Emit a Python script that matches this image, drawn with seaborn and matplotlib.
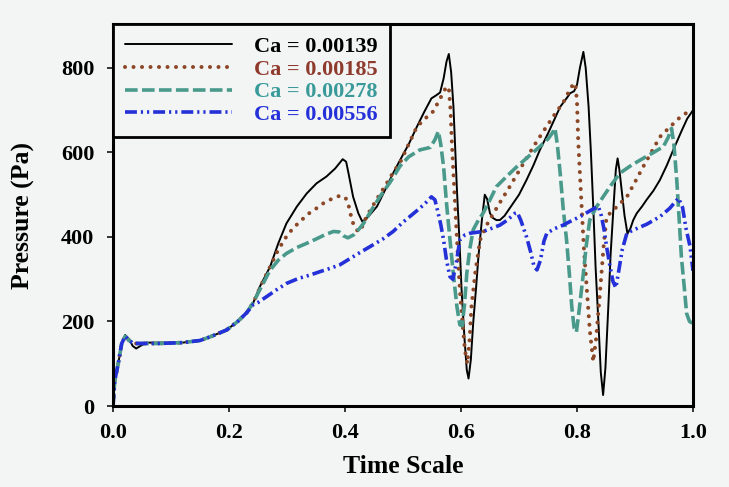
import numpy as np
import pandas as pd
import matplotlib
matplotlib.use("Agg")
import matplotlib.pyplot as plt
import seaborn as sns

# ---- pressure traces (time scale, pressure in Pa) ----
t_139 = [0, 0.003, 0.009, 0.015, 0.021, 0.028, 0.034, 0.040, 0.047, 0.058, 0.08, 0.12,
         0.15, 0.17, 0.196, 0.215, 0.23, 0.242, 0.253, 0.271, 0.285, 0.299, 0.317, 0.334,
         0.351, 0.368, 0.383, 0.396, 0.402, 0.406, 0.414, 0.423, 0.430, 0.440, 0.455,
         0.469, 0.483, 0.495, 0.510, 0.524, 0.537, 0.549, 0.557, 0.564, 0.570, 0.575,
         0.579, 0.583, 0.587, 0.590, 0.593, 0.597, 0.601, 0.606, 0.610, 0.613, 0.617,
         0.621, 0.626, 0.630, 0.636, 0.641, 0.645, 0.650, 0.655, 0.661, 0.667, 0.675,
         0.690, 0.700, 0.713, 0.725, 0.736, 0.750, 0.760, 0.771, 0.783, 0.788, 0.795,
         0.800, 0.805, 0.811, 0.815, 0.820, 0.824, 0.828, 0.832, 0.837, 0.841, 0.845,
         0.849, 0.854, 0.858, 0.863, 0.867, 0.870, 0.873, 0.877, 0.882, 0.887, 0.892,
         0.897, 0.903, 0.912, 0.920, 0.932, 0.943, 0.955, 0.966, 0.980, 0.990, 1.0]
p_139 = [0, 60, 100, 148, 168, 158, 142, 136, 142, 150, 150, 150,
         155, 165, 180, 200, 220, 245, 282, 330, 385, 432, 472, 503,
         527, 543, 562, 584, 578, 551, 495, 456, 436, 448, 472,
         511, 551, 582, 620, 661, 697, 728, 735, 742, 775, 815,
         833, 790, 708, 610, 511, 400, 275, 160, 85, 65, 110,
         196, 280, 353, 440, 500, 490, 456, 445, 440, 440, 450,
         480, 500, 535, 570, 606, 645, 675, 708, 730, 740, 745,
         760, 800, 838, 800, 708, 600, 472, 330, 196, 80, 26,
         90, 235, 360, 472, 560, 586, 560, 511, 450, 408, 420,
         440, 456, 472, 488, 510, 535, 570, 606, 650, 680, 700]

t_185 = [0, 0.003, 0.009, 0.015, 0.021, 0.028, 0.035, 0.05, 0.08, 0.12, 0.15, 0.17,
         0.196, 0.215, 0.23, 0.242, 0.255, 0.271, 0.285, 0.299, 0.310, 0.322, 0.337,
         0.351, 0.365, 0.380, 0.390, 0.397, 0.402, 0.406, 0.409, 0.412, 0.416, 0.420,
         0.424, 0.430, 0.437, 0.455, 0.472, 0.484, 0.495, 0.510, 0.524, 0.538, 0.552,
         0.565, 0.575, 0.579, 0.582, 0.584, 0.587, 0.590, 0.594, 0.598, 0.603, 0.607,
         0.611, 0.615, 0.618, 0.625, 0.633, 0.645, 0.656, 0.670, 0.684, 0.705, 0.725,
         0.742, 0.759, 0.777, 0.790, 0.797, 0.800, 0.802, 0.805, 0.808, 0.812, 0.817,
         0.822, 0.828, 0.833, 0.840, 0.846, 0.851, 0.863, 0.875, 0.886, 0.900, 0.914,
         0.928, 0.943, 0.960, 0.975, 0.990, 1.0]
p_185 = [0, 60, 100, 148, 165, 155, 148, 148, 148, 150, 155, 165,
         180, 200, 220, 245, 285, 330, 370, 401, 420, 436, 455,
         468, 482, 492, 497, 497, 490, 476, 458, 440, 425, 417,
         412, 425, 448, 490, 527, 555, 576, 620, 661, 680, 697,
         730, 756, 752, 700, 630, 550, 472, 370, 275, 190, 130,
         100, 160, 235, 320, 393, 430, 456, 488, 519, 568, 614,
         650, 685, 720, 755, 764, 720, 630, 550, 472, 370, 275,
         180, 105, 160, 275, 380, 448, 464, 480, 495, 530, 566,
         600, 637, 660, 680, 695, 700]

t_278 = [0, 0.003, 0.009, 0.015, 0.021, 0.028, 0.035, 0.05, 0.08, 0.12, 0.15, 0.17,
         0.196, 0.215, 0.23, 0.242, 0.253, 0.259, 0.270, 0.285, 0.299, 0.317, 0.334,
         0.350, 0.365, 0.380, 0.390, 0.397, 0.405, 0.415, 0.425, 0.432, 0.445, 0.460,
         0.478, 0.495, 0.510, 0.529, 0.547, 0.555, 0.561, 0.565, 0.570, 0.575, 0.581,
         0.587, 0.593, 0.598, 0.602, 0.606, 0.610, 0.615, 0.621, 0.630, 0.638, 0.650,
         0.661, 0.680, 0.696, 0.716, 0.736, 0.750, 0.757, 0.762, 0.766, 0.771, 0.776,
         0.782, 0.787, 0.791, 0.795, 0.799, 0.804, 0.811, 0.816, 0.822, 0.833, 0.845,
         0.860, 0.874, 0.894, 0.914, 0.932, 0.949, 0.957, 0.963, 0.967, 0.972, 0.976,
         0.980, 0.985, 0.989, 0.994, 1.0]
p_278 = [0, 60, 100, 148, 165, 155, 148, 148, 148, 150, 155, 165,
         180, 200, 220, 245, 275, 290, 320, 345, 361, 375, 385,
         395, 405, 413, 412, 403, 398, 405, 420, 432, 462, 495,
         530, 568, 590, 606, 612, 630, 650, 620, 566, 480, 393,
         310, 235, 192, 190, 240, 314, 370, 417, 440, 456, 488,
         519, 545, 566, 590, 614, 632, 645, 657, 620, 551, 470,
         393, 310, 235, 185, 175, 230, 314, 380, 440, 470, 495,
         525, 551, 570, 586, 600, 614, 635, 657, 620, 535, 445,
         353, 280, 219, 200, 195]

t_556 = [0, 0.003, 0.009, 0.015, 0.021, 0.028, 0.035, 0.05, 0.08, 0.12, 0.15, 0.17,
         0.196, 0.215, 0.23, 0.242, 0.250, 0.265, 0.282, 0.299, 0.320, 0.340, 0.357,
         0.375, 0.391, 0.410, 0.428, 0.443, 0.465, 0.483, 0.500, 0.515, 0.529, 0.540,
         0.549, 0.555, 0.560, 0.565, 0.570, 0.575, 0.581, 0.586, 0.592, 0.598, 0.607,
         0.616, 0.638, 0.652, 0.667, 0.680, 0.693, 0.697, 0.703, 0.708, 0.713, 0.720,
         0.726, 0.731, 0.737, 0.743, 0.748, 0.762, 0.776, 0.790, 0.805, 0.820, 0.830,
         0.837, 0.842, 0.847, 0.851, 0.857, 0.862, 0.867, 0.872, 0.878, 0.886, 0.895,
         0.903, 0.920, 0.943, 0.960, 0.975, 0.982, 0.988, 0.995, 1.0]
p_556 = [0, 60, 100, 148, 165, 155, 148, 148, 148, 150, 155, 165,
         180, 200, 220, 240, 245, 259, 275, 290, 302, 310, 318,
         326, 334, 350, 365, 377, 395, 413, 435, 452, 468, 482,
         495, 488, 460, 430, 393, 345, 306, 300, 340, 393, 405,
         409, 413, 420, 428, 440, 456, 458, 440, 420, 400, 365,
         330, 322, 345, 390, 409, 420, 428, 438, 448, 460, 468,
         472, 450, 415, 377, 330, 295, 280, 320, 370, 409, 415,
         420, 430, 448, 468, 492, 470, 420, 377, 320]

labels = ["Ca = 0.00139", "Ca = 0.00185", "Ca = 0.00278", "Ca = 0.00556"]
colors = ["#000000", "#8B4726", "#4A9A8C", "#2430D8"]
text_colors = ["#000000", "#8E3A2C", "#3A9A9A", "#2430D8"]
x_ticks = [0.0, 0.2, 0.4, 0.6, 0.8, 1.0]
y_ticks = [0, 200, 400, 600, 800]

bg = "#f3f5f5"
sns.set_theme(style="ticks")
plt.rcParams["font.family"] = ["Liberation Serif", "DejaVu Serif"]
plt.rcParams["font.weight"] = "bold"
plt.rcParams["axes.labelweight"] = "bold"
plt.rcParams["axes.labelcolor"] = "black"
plt.rcParams["text.color"] = "black"

fig = plt.figure(figsize=(7.29, 4.87), dpi=100, facecolor=bg)
ax = fig.add_axes([113 / 729, 1 - 406 / 487, 580 / 729, 382 / 487])
ax.set_facecolor(bg)

series = [
    (t_139, p_139, dict(lw=1.4, linestyle="-")),
    (t_185, p_185, dict(lw=2.9, linestyle=(0, (0.01, 2.1)), dash_capstyle="round")),
    (t_278, p_278, dict(lw=2.6, linestyle=(0, (3.5, 1.2)))),
    (t_556, p_556, dict(lw=2.6, linestyle=(0, (3.3, 1.1, 0.6, 1.1, 0.6, 1.1)))),
]
for (t, p, style), lab, col in zip(series, labels, colors):
    df = pd.DataFrame({"Time Scale": t, "Pressure (Pa)": p})
    sns.lineplot(data=df, x="Time Scale", y="Pressure (Pa)", ax=ax,
                 color=col, label=lab, estimator=None, sort=False, **style)

ax.set_xlim(0, 1.0)
ax.set_ylim(0, 904)
ax.set_xticks(x_ticks)
ax.set_xticklabels([f"{v:.1f}" for v in x_ticks])
ax.set_yticks(y_ticks)
ax.set_yticklabels([str(v) for v in y_ticks])
ax.tick_params(axis="both", direction="out", length=4.5, width=1.1,
               labelsize=16, colors="black")
ax.tick_params(axis="x", pad=8)
ax.tick_params(axis="y", pad=9)
for s in ax.spines.values():
    s.set_visible(True)
    s.set_linewidth(2.2)
    s.set_color("black")

ax.set_xlabel("Time Scale", fontsize=18.5, fontweight="bold", color="black")
ax.set_ylabel("Pressure (Pa)", fontsize=18.5, fontweight="bold", color="black")
ax.xaxis.set_label_coords(0.5, -0.128)
ax.yaxis.set_label_coords(-0.134, 0.5)

leg = ax.legend(loc="upper left", bbox_to_anchor=(0, 1), borderaxespad=0,
                fontsize=16, frameon=True, fancybox=False, framealpha=1,
                facecolor=bg, edgecolor="black", handlelength=4.8,
                handletextpad=1.0, labelspacing=0.1, borderpad=0.55)
leg.get_frame().set_linewidth(2.0)
for txt, c in zip(leg.get_texts(), text_colors):
    txt.set_color(c)
    txt.set_fontweight("bold")

fig.savefig("out.png", dpi=100, facecolor=bg)
